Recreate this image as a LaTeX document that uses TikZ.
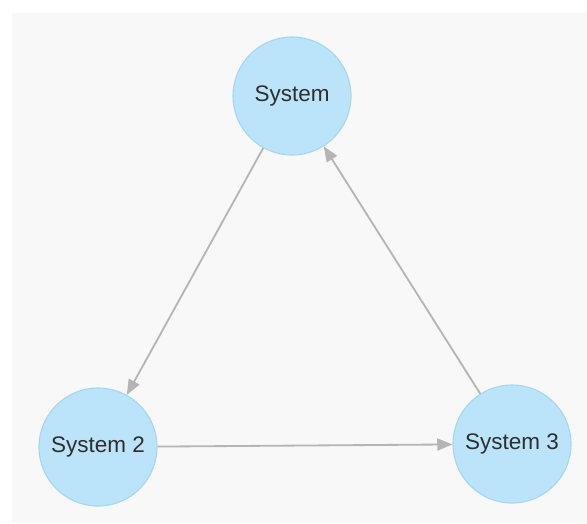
\documentclass[tikz,border=0pt]{standalone}
\usepackage{fontspec}
\setmainfont{Liberation Sans}
\usepackage{xcolor}
\usetikzlibrary{arrows.meta}
\definecolor{canvas}{HTML}{F8F8F8}
\definecolor{bubble}{HTML}{BBE4FA}
\definecolor{rim}{HTML}{A6D7F1}
\definecolor{wire}{HTML}{B5B5B5}
\definecolor{ink}{HTML}{2E2E2E}
\begin{document}
\begin{tikzpicture}[>={Triangle[length=0.38cm,width=0.3cm]}]
\tikzset{sys/.style={circle,draw=rim,fill=bubble,line width=0.8pt,minimum size=2.95cm,inner sep=0pt,text=ink,font=\fontsize{16}{19}\selectfont}, arr/.style={->,draw=wire,fill=wire,line width=1.3pt}}
\fill[white] (0,0) rectangle (14.675,-13.075);
\fill[canvas] (0.3,-0.325) rectangle (14.675,-13.075);
\node[sys] (sys1) at (7.3,-2.4) {System};
\node[sys] (sys2) at (2.45,-11.175) {System 2};
\node[sys] (sys3) at (12.8,-11.1) {System 3};
\draw[arr] (sys1)--(sys2);
\draw[arr] (sys2)--(sys3);
\draw[arr] (sys3)--(sys1);
\end{tikzpicture}
\end{document}
